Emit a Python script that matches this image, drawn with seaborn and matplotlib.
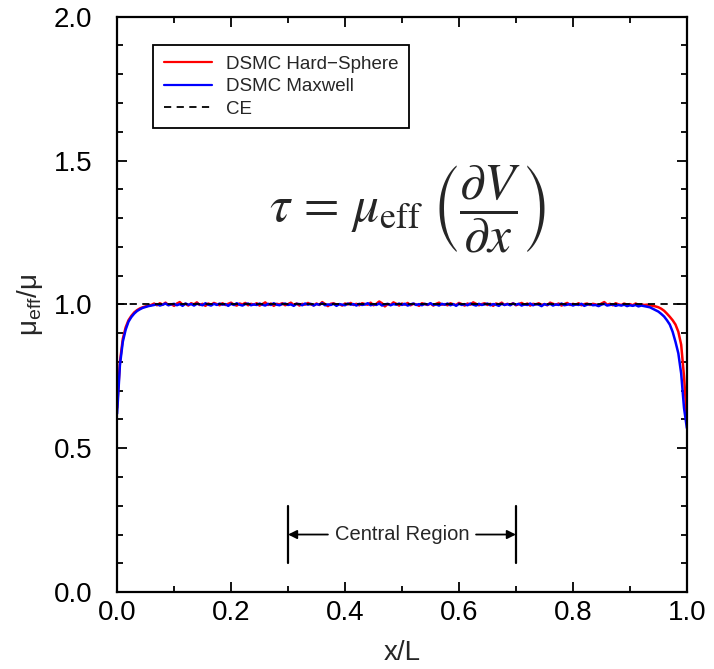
import numpy as np
import pandas as pd
import matplotlib
matplotlib.use("Agg")
import matplotlib.pyplot as plt
from matplotlib.ticker import MultipleLocator, FormatStrFormatter
from matplotlib.lines import Line2D
import seaborn as sns

# x/L grid (uniform, step 0.005)
x_over_L = np.round(np.linspace(0.0, 1.0, 201), 3)

hard_sphere = [
    0.640, 0.800, 0.880, 0.920, 0.945, 0.960, 0.972, 0.980, 0.986, 0.990,
    0.993, 0.996, 0.998, 1.003, 0.997, 1.004, 0.999, 1.006, 0.998, 1.001,
    0.995, 1.003, 1.008, 0.999, 1.002, 0.996, 1.004, 1.000, 1.007, 0.998,
    1.002, 0.995, 1.003, 0.999, 1.005, 1.001, 0.997, 1.004, 0.998, 1.002,
    1.006, 0.999, 0.996, 1.003, 1.000, 1.005, 0.997, 1.002, 0.999, 1.004,
    0.996, 1.001, 1.007, 0.998, 1.003, 0.995, 1.002, 1.000, 1.004, 0.997,
    1.001, 1.006, 0.998, 1.003, 0.996, 1.002, 0.999, 1.005, 1.000, 0.997,
    1.003, 0.998, 1.008, 1.001, 0.994, 1.002, 1.004, 0.999, 1.001, 0.996,
    1.003, 1.000, 1.005, 0.998, 1.002, 0.997, 1.004, 1.001, 0.999, 1.006,
    0.997, 1.002, 1.010, 1.004, 0.993, 1.001, 0.998, 1.007, 1.002, 0.996,
    1.003, 0.999, 1.005, 0.997, 1.002, 1.000, 0.995, 1.004, 1.001, 0.998,
    1.003, 0.996, 1.002, 1.006, 0.999, 1.001, 0.997, 1.004, 1.000, 0.998,
    1.005, 1.001, 0.996, 1.003, 0.999, 1.007, 1.002, 0.997, 1.001, 1.004,
    0.998, 1.002, 0.995, 1.003, 1.000, 1.006, 0.998, 1.002, 0.999, 1.004,
    0.997, 1.001, 1.005, 0.999, 1.003, 0.996, 1.002, 1.000, 1.004, 0.998,
    1.001, 0.997, 1.006, 1.002, 0.999, 1.003, 0.996, 1.001, 1.005, 0.998,
    1.002, 0.999, 1.004, 0.997, 1.001, 1.003, 0.998, 1.002, 1.000, 0.996,
    1.003, 1.008, 0.999, 1.002, 0.997, 1.004, 1.000, 0.998, 1.003, 0.999,
    1.001, 0.997, 1.003, 0.999, 1.000, 0.998, 0.999, 0.997, 0.995, 0.993,
    0.990, 0.985, 0.978, 0.968, 0.957, 0.945, 0.930, 0.905, 0.860, 0.750,
    0.600,
]

maxwell = [
    0.620, 0.790, 0.870, 0.912, 0.940, 0.956, 0.968, 0.977, 0.983, 0.988,
    0.991, 0.994, 0.996, 0.998, 1.001, 0.996, 0.999, 1.003, 0.997, 1.000,
    1.002, 0.997, 1.001, 0.995, 1.003, 0.999, 1.001, 0.996, 1.002, 1.000,
    0.997, 1.004, 0.999, 0.996, 1.002, 0.998, 1.003, 0.999, 1.001, 0.995,
    1.002, 0.998, 1.004, 0.999, 0.996, 1.001, 1.003, 0.997, 1.000, 0.998,
    1.003, 0.999, 0.996, 1.002, 0.998, 1.004, 0.999, 0.997, 1.001, 1.003,
    0.998, 1.000, 0.995, 1.002, 1.001, 0.997, 1.003, 0.999, 1.002, 0.996,
    1.001, 0.999, 1.004, 0.997, 1.000, 0.998, 1.002, 0.995, 1.001, 0.999,
    0.997, 1.003, 0.999, 1.001, 0.996, 1.002, 0.998, 1.000, 1.004, 0.997,
    1.001, 0.998, 1.003, 0.996, 1.000, 1.002, 0.997, 1.001, 0.999, 1.003,
    0.998, 1.002, 0.996, 1.000, 1.003, 0.998, 1.001, 0.997, 1.002, 0.999,
    1.004, 0.998, 1.000, 0.996, 1.002, 0.999, 1.003, 0.997, 1.001, 0.995,
    1.002, 0.998, 1.001, 0.997, 1.003, 0.999, 0.996, 1.002, 0.998, 1.000,
    1.003, 0.997, 1.001, 0.999, 0.995, 1.002, 0.998, 1.001, 0.997, 1.003,
    0.999, 1.002, 0.996, 1.000, 0.998, 1.003, 0.997, 1.001, 0.999, 0.994,
    1.001, 0.998, 1.002, 0.996, 1.000, 0.998, 1.003, 0.997, 0.999, 1.001,
    0.996, 1.000, 0.998, 1.002, 0.995, 0.999, 1.001, 0.997, 0.998, 0.994,
    0.999, 1.002, 0.996, 0.998, 1.000, 0.995, 0.998, 0.996, 0.999, 0.994,
    0.997, 0.995, 0.998, 0.993, 0.996, 0.994, 0.992, 0.990, 0.985, 0.980,
    0.975, 0.967, 0.958, 0.945, 0.930, 0.905, 0.870, 0.830, 0.760, 0.640,
    0.570,
]

ce_x = [0.0, 1.0]
ce_y = [1.0, 1.0]

series_names = ["DSMC Hard\u2212Sphere", "DSMC Maxwell"]
region_bounds = [0.3, 0.7]

sns.set_style("ticks")
plt.rcParams["font.family"] = ["Liberation Sans", "DejaVu Sans"]
plt.rcParams["mathtext.fontset"] = "custom"
plt.rcParams["mathtext.rm"] = "Liberation Sans"

df = pd.DataFrame({
    "x": np.concatenate([x_over_L, x_over_L]),
    "y": np.concatenate([hard_sphere, maxwell]),
    "series": [series_names[0]] * len(x_over_L) + [series_names[1]] * len(x_over_L),
})

fig = plt.figure(figsize=(7.14, 6.69), dpi=100)
ax = fig.add_axes([0.164, 0.115, 0.798, 0.86])

sns.lineplot(data=df, x="x", y="y", hue="series", hue_order=series_names,
             palette=["#ff0000", "#0000ff"], estimator=None, sort=True,
             linewidth=1.8, ax=ax, legend=False)
sns.lineplot(x=ce_x, y=ce_y, color="black", linestyle=(0, (4, 3)),
             linewidth=1.3, ax=ax, legend=False)

handles = [Line2D([], [], color="#ff0000", lw=1.6),
           Line2D([], [], color="#0000ff", lw=1.6),
           Line2D([], [], color="black", lw=1.3, linestyle=(0, (4, 3)))]
leg = ax.legend(handles, series_names + ["CE"], loc="upper left",
                bbox_to_anchor=(0.047, 0.967), fontsize=13.5, frameon=True,
                fancybox=False, edgecolor="black", framealpha=1,
                handlelength=2.6, borderpad=0.55, labelspacing=0.3,
                handletextpad=0.75)
leg.get_frame().set_linewidth(1.3)

ax.set_xlim(0, 1)
ax.set_ylim(0, 2)
ax.xaxis.set_major_locator(MultipleLocator(0.2))
ax.xaxis.set_minor_locator(MultipleLocator(0.1))
ax.yaxis.set_major_locator(MultipleLocator(0.5))
ax.yaxis.set_minor_locator(MultipleLocator(0.1))
ax.xaxis.set_major_formatter(FormatStrFormatter("%.1f"))
ax.yaxis.set_major_formatter(FormatStrFormatter("%.1f"))
ax.tick_params(which="both", direction="in", top=True, right=True,
               width=1.3, labelsize=20, colors="black")
ax.tick_params(axis="x", which="major", length=7, pad=6)
ax.tick_params(axis="y", which="major", length=7, pad=18)
ax.tick_params(which="minor", length=4)
for s in ax.spines.values():
    s.set_visible(True)
    s.set_linewidth(1.6)
    s.set_color("black")

ax.set_xlabel("x/L", fontsize=20, labelpad=10)
ax.set_ylabel(r"$\mathregular{\mu_{eff}/\mu}$", fontsize=20, labelpad=6)

ax.text(0.51, 0.665, r"$\tau\, =\, \mu_{\mathrm{eff}}\;\left(\dfrac{\partial V}{\partial x}\right)$",
        transform=ax.transAxes, ha="center", va="center", fontsize=37,
        math_fontfamily="stix")

# Central region annotation
for xb in region_bounds:
    ax.plot([xb, xb], [0.10, 0.30], color="black", lw=1.6)
ax.text(0.5, 0.2, "Central Region", ha="center", va="center", fontsize=14.5)
ax.annotate("", xy=(region_bounds[0], 0.2), xytext=(0.37, 0.2),
            arrowprops=dict(arrowstyle="-|>", color="black", lw=1.3,
                            mutation_scale=13, shrinkA=0, shrinkB=0))
ax.annotate("", xy=(region_bounds[1], 0.2), xytext=(0.63, 0.2),
            arrowprops=dict(arrowstyle="-|>", color="black", lw=1.3,
                            mutation_scale=13, shrinkA=0, shrinkB=0))

fig.savefig("out.png", dpi=100)
